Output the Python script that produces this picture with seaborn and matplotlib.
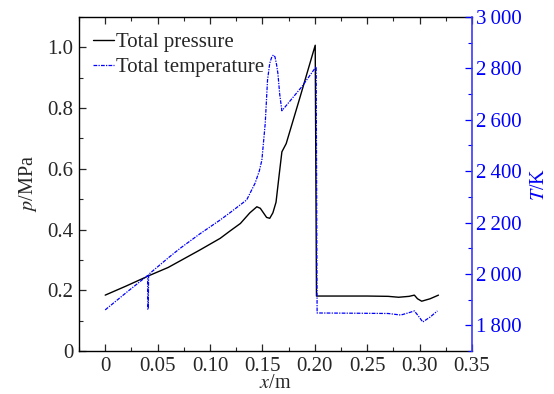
import matplotlib
matplotlib.use("Agg")
import matplotlib.pyplot as plt
import matplotlib.ticker as mticker
from matplotlib.lines import Line2D
import seaborn as sns
import pandas as pd

# ---- data ----
x_p = [0.0, 0.02, 0.043, 0.06, 0.0716, 0.09, 0.1097, 0.119, 0.129, 0.138, 0.1447,
       0.148, 0.151, 0.154, 0.157, 0.16, 0.163, 0.166, 0.1686, 0.1727, 0.186, 0.2004,
       0.2016, 0.22, 0.25, 0.27, 0.28, 0.29, 0.295, 0.298, 0.302, 0.31, 0.318]
p_vals = [0.184, 0.214, 0.250, 0.275, 0.297, 0.332, 0.371, 0.395, 0.420, 0.455, 0.475,
          0.470, 0.455, 0.440, 0.437, 0.455, 0.490, 0.580, 0.656, 0.683, 0.837, 1.007,
          0.181, 0.181, 0.181, 0.180, 0.177, 0.180, 0.184, 0.172, 0.164, 0.172, 0.184]

x_T = [0.0, 0.02, 0.0405, 0.0408, 0.0411, 0.0414, 0.06, 0.0716, 0.09, 0.1097, 0.119,
       0.135, 0.143, 0.147, 0.1495, 0.1527, 0.1549, 0.157, 0.159, 0.1605, 0.162, 0.1635,
       0.1648, 0.1665, 0.1686, 0.1877, 0.2013, 0.2022, 0.24, 0.27, 0.282, 0.289, 0.295,
       0.30, 0.303, 0.31, 0.317]
T_vals = [1860, 1927, 1994, 1862, 1862, 1998, 2062, 2100, 2155, 2210, 2238,
          2288, 2353, 2400, 2443, 2586, 2755, 2820, 2845, 2852, 2845, 2815,
          2780, 2700, 2635, 2729, 2807, 1848, 1847, 1846, 1840, 1848, 1856,
          1830, 1813, 1832, 1856]

x_ticks = [0, 0.05, 0.10, 0.15, 0.20, 0.25, 0.30, 0.35]
p_ticks = [0, 0.2, 0.4, 0.6, 0.8, 1.0]
T_ticks = [1800, 2000, 2200, 2400, 2600, 2800, 3000]

df_p = pd.DataFrame({"x": x_p, "p": p_vals})
df_T = pd.DataFrame({"x": x_T, "T": T_vals})

# ---- style ----
sns.set_style("ticks")
plt.rcParams["font.family"] = ["Liberation Serif", "DejaVu Serif"]
plt.rcParams["mathtext.fontset"] = "stix"
plt.rcParams["xtick.direction"] = "in"
plt.rcParams["ytick.direction"] = "in"

BLUE = "#0000ff"
AXBLUE = "#3a3aff"
DASH = (0, (3, 1, 1, 1))

fig = plt.figure(figsize=(5.54, 3.94), dpi=100)
ax = fig.add_axes([79/554, 43/394, (472-79)/554, (351-17)/394])
ax2 = ax.twinx()

sns.lineplot(data=df_p, x="x", y="p", ax=ax, sort=False, color="black", lw=1.0,
             estimator=None)
sns.lineplot(data=df_T, x="x", y="T", ax=ax2, sort=False, color=BLUE, lw=0.9,
             estimator=None, linestyle=DASH)

ax.set_xlim(-0.025, 0.35)
ax.set_ylim(0, 1.1)
ax2.set_ylim(1700, 3000)

ax.set_xticks(x_ticks)
ax.xaxis.set_major_formatter(mticker.FuncFormatter(lambda v, _: "0" if abs(v) < 1e-9 else f"{v:.2f}"))
ax.xaxis.set_minor_locator(mticker.MultipleLocator(0.025))
ax.set_yticks(p_ticks)
ax.yaxis.set_major_formatter(mticker.FuncFormatter(lambda v, _: "0" if abs(v) < 1e-9 else f"{v:.1f}"))
ax.yaxis.set_minor_locator(mticker.MultipleLocator(0.1))
ax2.set_yticks(T_ticks)
ax2.yaxis.set_major_formatter(mticker.FuncFormatter(
    lambda v, _: f"{int(v)//1000}\u2009{int(v)%1000:03d}"))
ax2.yaxis.set_minor_locator(mticker.MultipleLocator(100))

fs = 15
ax.tick_params(axis="both", which="major", labelsize=fs, length=5, width=0.9,
               top=True, bottom=True, left=True, right=False, pad=4)
ax.tick_params(axis="both", which="minor", length=3, width=0.8,
               top=True, bottom=True, left=True, right=False)
ax2.tick_params(axis="y", which="major", labelsize=fs, length=5, width=0.9,
                colors=BLUE, pad=3)
ax2.tick_params(axis="y", which="minor", length=3, width=0.8, colors=BLUE)

for s in ["left", "bottom", "top"]:
    ax.spines[s].set_linewidth(1.0)
    ax.spines[s].set_color("black")
ax2.spines["right"].set_color(AXBLUE)
ax2.spines["right"].set_linewidth(1.2)
ax2.spines["left"].set_visible(False)
ax2.spines["top"].set_visible(False)
ax2.spines["bottom"].set_visible(False)
ax.spines["right"].set_visible(False)

ax.set_xlabel("$x$/m", fontsize=14.5, labelpad=-1)
ax.set_ylabel("$p$/MPa", fontsize=14.5, labelpad=6)
ax2.set_ylabel("$T$/K", fontsize=14.5, color=BLUE, labelpad=6)

handles = [Line2D([], [], color="black", lw=1.0),
           Line2D([], [], color=BLUE, lw=0.9, linestyle=DASH)]
ax.legend(handles, ["Total pressure", "Total temperature"], loc="upper left",
          frameon=False, fontsize=fs, handlelength=1.0, handletextpad=0.1,
          labelspacing=0.25, borderaxespad=0.0, bbox_to_anchor=(0.0145, 0.978))

fig.savefig("out.png", dpi=100)
